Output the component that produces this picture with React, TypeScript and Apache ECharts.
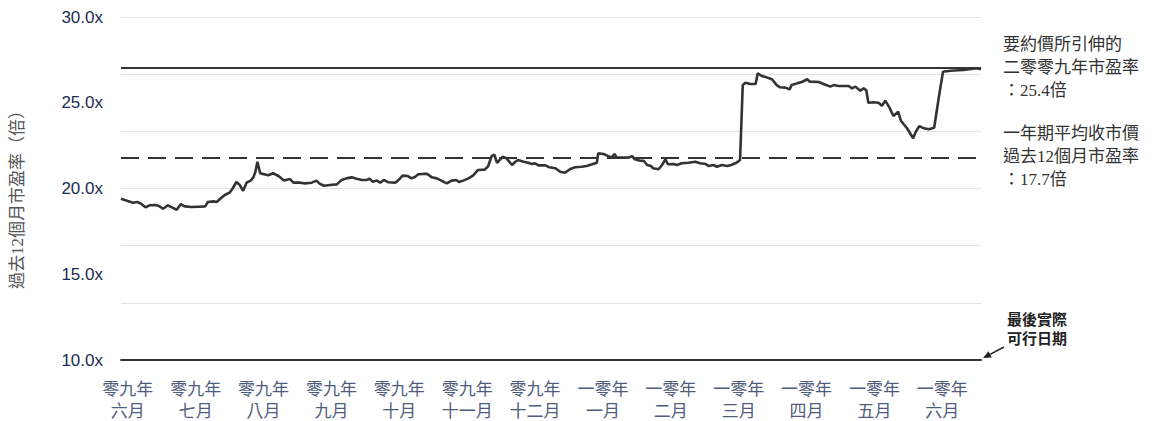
import React, { useEffect, useRef } from "react";
import * as echarts from "echarts";

// x positions in months (0 = 零九年六月 label)
const xMonths = [
  -0.1, 0.0, 0.08, 0.14, 0.2, 0.26, 0.32, 0.4, 0.45, 0.52,
  0.59, 0.65, 0.72, 0.78, 0.84, 0.94, 1.04, 1.14, 1.18, 1.26,
  1.31, 1.37, 1.43, 1.5, 1.54, 1.6, 1.65, 1.7, 1.75, 1.81,
  1.85, 1.88, 1.91, 1.95, 1.99, 2.07, 2.14, 2.22, 2.3, 2.39,
  2.44, 2.54, 2.61, 2.71, 2.78, 2.82, 2.89, 2.98, 3.08, 3.15,
  3.22, 3.3, 3.37, 3.45, 3.52, 3.56, 3.61, 3.67, 3.72, 3.77,
  3.84, 3.94, 3.98, 4.05, 4.12, 4.18, 4.23, 4.28, 4.35, 4.41,
  4.48, 4.55, 4.62, 4.7, 4.77, 4.84, 4.88, 4.94, 5.02, 5.09,
  5.16, 5.26, 5.31, 5.36, 5.4, 5.44, 5.52, 5.58, 5.66, 5.71,
  5.75, 5.83, 5.9, 5.95, 6.0, 6.05, 6.15, 6.21, 6.3, 6.37,
  6.44, 6.52, 6.59, 6.69, 6.76, 6.84, 6.91, 6.93, 7.01, 7.08,
  7.13, 7.17, 7.2, 7.28, 7.38, 7.43, 7.47, 7.55, 7.6, 7.65,
  7.71, 7.74, 7.82, 7.87, 7.92, 7.96, 8.04, 8.09, 8.16, 8.26,
  8.36, 8.43, 8.51, 8.56, 8.63, 8.68, 8.75, 8.83, 8.89, 8.95,
  9.0, 9.02, 9.06, 9.1, 9.17, 9.25, 9.28, 9.34, 9.41, 9.49,
  9.56, 9.61, 9.69, 9.75, 9.78, 9.86, 9.93, 10.01, 10.05, 10.18,
  10.25, 10.35, 10.4, 10.47, 10.62, 10.67, 10.72, 10.79, 10.84, 10.88,
  10.91, 10.98, 11.06, 11.11, 11.16, 11.22, 11.28, 11.35, 11.39, 11.48,
  11.57, 11.61, 11.66, 11.73, 11.8, 11.88, 11.95, 12.01, 12.12, 12.31,
  12.51, 12.57,
];

// trailing 12-month P/E (x)
const peValues = [
  19.4, 19.27, 19.17, 19.21, 19.1, 18.9, 19.02, 19.04, 19.0, 18.82,
  19.02, 18.9, 18.76, 19.08, 18.96, 18.92, 18.94, 18.96, 19.21, 19.25,
  19.21, 19.43, 19.62, 19.76, 19.97, 20.38, 20.2, 19.87, 20.34, 20.46,
  20.65, 20.98, 21.56, 20.89, 20.85, 20.77, 20.89, 20.73, 20.46, 20.55,
  20.34, 20.34, 20.3, 20.34, 20.46, 20.3, 20.16, 20.2, 20.24, 20.5,
  20.59, 20.65, 20.57, 20.5, 20.5, 20.57, 20.4, 20.46, 20.34, 20.5,
  20.36, 20.34, 20.46, 20.75, 20.73, 20.59, 20.67, 20.83, 20.85, 20.85,
  20.65, 20.59, 20.46, 20.3, 20.46, 20.5, 20.38, 20.46, 20.59, 20.77,
  21.08, 21.1, 21.31, 21.89, 21.97, 21.5, 21.85, 21.76, 21.37, 21.56,
  21.66, 21.56, 21.5, 21.43, 21.47, 21.35, 21.35, 21.24, 21.18, 20.98,
  20.92, 21.14, 21.24, 21.27, 21.31, 21.41, 21.5, 22.05, 22.01, 21.89,
  21.81, 22.01, 21.81, 21.81, 21.8, 21.89, 21.7, 21.62, 21.62, 21.37,
  21.31, 21.18, 21.12, 21.37, 21.7, 21.41, 21.43, 21.37, 21.47, 21.5,
  21.56, 21.47, 21.43, 21.31, 21.37, 21.27, 21.37, 21.31, 21.37, 21.47,
  21.6, 21.66, 26.03, 26.17, 26.09, 26.09, 26.72, 26.56, 26.48, 26.37,
  26.03, 25.9, 25.88, 25.78, 26.03, 26.13, 26.21, 26.37, 26.23, 26.21,
  26.09, 25.94, 26.03, 25.98, 25.98, 25.84, 25.94, 25.7, 25.84, 25.74,
  25.0, 25.03, 25.0, 24.83, 25.12, 24.73, 24.23, 24.48, 23.95, 23.51,
  22.93, 23.31, 23.64, 23.51, 23.45, 23.54, 25.35, 26.81, 26.87, 26.91,
  27.01, 26.95,
];

const monthLabels = [
  "零九年\n六月", "零九年\n七月", "零九年\n八月", "零九年\n九月", "零九年\n十月",
  "零九年\n十一月", "零九年\n十二月", "一零年\n一月", "一零年\n二月", "一零年\n三月",
  "一零年\n四月", "一零年\n五月", "一零年\n六月",
];
const monthTickValues = [0, 1, 2, 3, 4, 5, 6, 7, 8, 9, 10, 11, 12];

const yTicks = [10, 15, 20, 25, 30];
const impliedPE = 27.05; // solid reference line
const averagePE = 21.77; // dashed reference line

const annotationImplied = "要約價所引伸的\n二零零九年市盈率\n：25.4倍";
const annotationAverage = "一年期平均收市價\n過去12個月市盈率\n：17.7倍";
const annotationLastDate = "最後實際\n可行日期";
const yAxisTitle = "過去12個月市盈率（倍）";

const SERIF = "'Liberation Serif', 'Noto Sans CJK TC', serif";

export default function App() {
  const ref = useRef<HTMLDivElement>(null);

  useEffect(() => {
    if (!ref.current) return;
    document.body.style.margin = "0";
    document.body.style.overflow = "hidden";
    const chart = echarts.init(ref.current, undefined, { renderer: "svg" });
    const data = xMonths.map((x, i) => [x, peValues[i]]);

    chart.setOption({
      animation: false,
      grid: {
        left: 121,
        right: 171,
        top: 17,
        bottom: 61,
        containLabel: false,
        outerBoundsMode: "none",
      },
      xAxis: {
        type: "value",
        min: -0.1,
        max: 12.57,
        axisLine: { show: true, lineStyle: { color: "#333", width: 2 } },
        axisTick: { show: false },
        splitLine: { show: false },
        axisLabel: {
          customValues: monthTickValues,
          formatter: (v: number) => monthLabels[Math.round(v)] ?? "",
          color: "#4f5c7c",
          fontFamily: SERIF,
          fontSize: 17,
          lineHeight: 22,
          margin: 18,
        },
      },
      yAxis: [
        {
          type: "value",
          min: yTicks[0],
          max: yTicks[yTicks.length - 1],
          interval: 5,
          axisLine: { show: false },
          axisTick: { show: false },
          splitLine: { show: false },
          axisLabel: {
            formatter: (v: number) => v.toFixed(1) + "x",
            color: "#1c2b4f",
            fontFamily: "'Liberation Sans', Arial, sans-serif",
            fontSize: 17,
            margin: 18,
          },
          name: yAxisTitle,
          nameLocation: "middle",
          nameGap: 95,
          nameTextStyle: {
            color: "#555",
            fontFamily: SERIF,
            fontSize: 17,
            padding: [0, 14, 0, 0],
          },
        },
        {
          type: "value",
          min: 0,
          max: 6,
          interval: 1,
          axisLine: { show: false },
          axisTick: { show: false },
          axisLabel: { show: false },
          splitLine: { show: true, lineStyle: { color: "#e3e3e3", width: 1 } },
        },
      ],
      series: [
        {
          type: "line",
          yAxisIndex: 0,
          data,
          showSymbol: false,
          symbol: "none",
          lineStyle: { color: "#333", width: 2.6 },
          z: 3,
          markLine: {
            silent: true,
            symbol: ["none", "none"],
            label: { show: false },
            data: [
              { yAxis: impliedPE, lineStyle: { color: "#333", width: 2, type: "solid" } },
              { yAxis: averagePE, lineStyle: { color: "#333", width: 2, type: [18, 9] } },
            ],
          },
        },
      ],
      graphic: [
        {
          type: "text",
          left: 1003,
          top: 33,
          style: {
            text: annotationImplied,
            fill: "#333",
            font: `17px ${SERIF}`,
            lineHeight: 23,
          },
        },
        {
          type: "text",
          left: 1003,
          top: 122,
          style: {
            text: annotationAverage,
            fill: "#333",
            font: `17px ${SERIF}`,
            lineHeight: 23,
          },
        },
        {
          type: "text",
          left: 1007,
          top: 309,
          style: {
            text: annotationLastDate,
            fill: "#222",
            font: "bold 15px 'Noto Sans CJK TC', sans-serif",
            lineHeight: 19,
          },
        },
        {
          type: "line",
          shape: { x1: 1004, y1: 347, x2: 990, y2: 354.3 },
          style: { stroke: "#222", lineWidth: 1.5 },
        },
        {
          type: "polygon",
          shape: { points: [[983, 358], [991.7, 357.4], [988.5, 351.2]] },
          style: { fill: "#222" },
        },
      ],
    });

    return () => chart.dispose();
  }, []);

  return <div ref={ref} style={{ width: 1152, height: 421 }} />;
}
